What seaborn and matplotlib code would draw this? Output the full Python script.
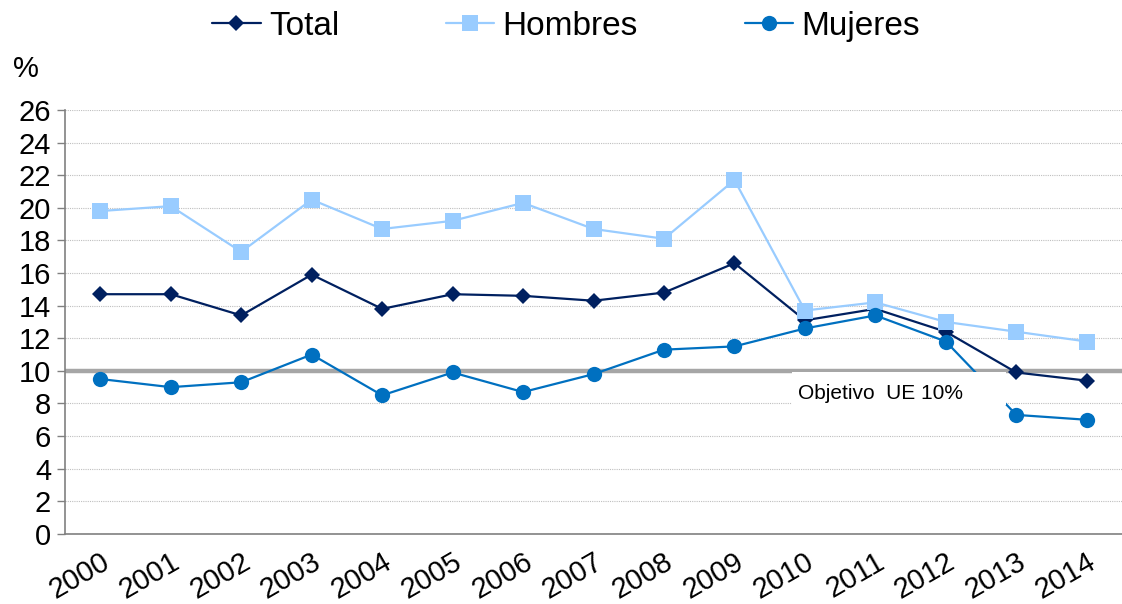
import matplotlib
matplotlib.use("Agg")
import matplotlib.pyplot as plt
import seaborn as sns
import pandas as pd
from matplotlib.patches import Rectangle

years = list(range(2000, 2015))
total = [14.7, 14.7, 13.4, 15.9, 13.8, 14.7, 14.6, 14.3, 14.8, 16.6, 13.1, 13.8, 12.4, 9.9, 9.4]
hombres = [19.8, 20.1, 17.3, 20.5, 18.7, 19.2, 20.3, 18.7, 18.1, 21.7, 13.7, 14.2, 13.0, 12.4, 11.8]
mujeres = [9.5, 9.0, 9.3, 11.0, 8.5, 9.9, 8.7, 9.8, 11.3, 11.5, 12.6, 13.4, 11.8, 7.3, 7.0]
series_names = ["Total", "Hombres", "Mujeres"]
objetivo = 10
yticks = list(range(0, 27, 2))

df = pd.DataFrame({
    "year": years * 3,
    "value": total + hombres + mujeres,
    "serie": [series_names[0]] * len(years) + [series_names[1]] * len(years) + [series_names[2]] * len(years),
})

sns.set_style("white")
plt.rcParams["font.family"] = ["Liberation Sans", "DejaVu Sans"]
plt.rcParams["text.color"] = "black"
plt.rcParams["xtick.color"] = "black"
plt.rcParams["ytick.color"] = "black"

fig = plt.figure(figsize=(11.22, 6.04), dpi=100)
ax = fig.add_axes([0.058, 0.116, 0.942, 0.702])

palette = {"Total": "#002060", "Hombres": "#99CCFF", "Mujeres": "#0070C0"}
markers = {"Total": "D", "Hombres": "s", "Mujeres": "o"}
sizes_m = {"Total": 8, "Hombres": 11, "Mujeres": 11}

for name in series_names:
    sub = df[df["serie"] == name]
    sns.lineplot(data=sub, x="year", y="value", ax=ax, color=palette[name],
                 marker=markers[name], markersize=sizes_m[name], markeredgewidth=0,
                 linewidth=1.6, label=name, zorder=3)

ax.axhline(objetivo, color="#A6A6A6", linewidth=3.2, zorder=2.5)

# white text box of the annotation
ax.add_patch(Rectangle((2009.82, 7.9), 3.04, 2.0, facecolor="white", edgecolor="none", zorder=4))
ax.text(2009.9, 8.6, "Objetivo  UE 10%", fontsize=15, va="center", ha="left", zorder=5)

ax.set_xlim(1999.5, 2014.5)
ax.set_ylim(0, 26)
ax.set_yticks(yticks)
ax.set_xticks(years)
ax.set_xticklabels([str(y) for y in years], rotation=30, ha="right", rotation_mode="anchor")
ax.tick_params(axis="y", labelsize=21, length=6, width=1, color="#808080", labelcolor="black",
               direction="out", left=True, pad=4)
ax.tick_params(axis="x", labelsize=21, length=0, pad=10, labelcolor="black")
ax.grid(axis="y", linestyle=(0, (1, 1)), color="#BFBFBF", linewidth=0.8)
ax.set_axisbelow(True)
for s in ["top", "right"]:
    ax.spines[s].set_visible(False)
for s in ["left", "bottom"]:
    ax.spines[s].set_color("#808080")
    ax.spines[s].set_linewidth(1.2)
ax.set_xlabel("")
ax.set_ylabel("")
fig.text(0.012, 0.885, "%", fontsize=21, ha="left", va="center", color="black")

leg = ax.legend(loc="upper center", bbox_to_anchor=(0.474, 1.305), ncol=3, frameon=False,
                fontsize=24, handlelength=1.45, columnspacing=3.2, handletextpad=0.25)
for t in leg.get_texts():
    t.set_color("black")

fig.savefig("out.png", dpi=100)
